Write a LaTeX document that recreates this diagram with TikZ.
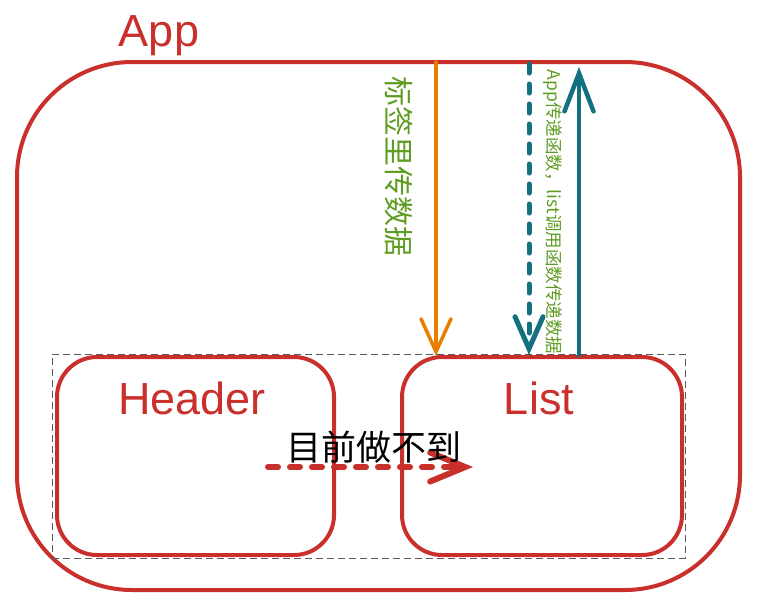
\documentclass[tikz,border=0pt]{standalone}
\usepackage{fontspec}
\setmainfont{Liberation Sans}
\newfontfamily\cjk{Noto Sans CJK SC}
\usetikzlibrary{arrows.meta}
\definecolor{boxred}{HTML}{C9302C}
\definecolor{arrorange}{HTML}{E67E00}
\definecolor{arrteal}{HTML}{12707F}
\definecolor{labgreen}{HTML}{5E9C22}
\tikzset{
  x=1pt,y=-1pt,
  redbox/.style={draw=boxred,line width=4pt,rounded corners=40pt,inner sep=0pt},
  boxtitle/.style={text=boxred,font=\fontsize{45}{45}\selectfont,inner sep=0pt},
  vlabel/.style={text=labgreen,rotate=-90,inner sep=0pt},
}
\begin{document}
\begin{tikzpicture}
\useasboundingbox (0,0) rectangle (759,598);
% App
\node[draw=boxred,line width=4pt,rounded corners=115pt,minimum width=723pt,minimum height=528pt,inner sep=0pt] (app) at (378.5,326) {};
\node[boxtitle] (apptitle) at (159,36) {App};
% dashed group
\node[draw=black!65,dash pattern=on 7pt off 4pt,line width=1pt,minimum width=633pt,minimum height=204pt,inner sep=0pt] (grp) at (368.5,456) {};
% Header and List
\node[redbox,minimum width=277pt,minimum height=198pt] (header) at (195.5,456) {};
\node[boxtitle] (headertitle) at (192,398) {Header};
\node[redbox,minimum width=280pt,minimum height=198pt] (list) at (542,456) {};
\node[boxtitle] (listtitle) at (539,398) {List};
% coordinates on borders
\coordinate (o1) at (436,62);
\coordinate (o2) at (436,356);
\coordinate (t1) at (529,64);
\coordinate (t2) at (529,355);
\coordinate (s1) at (579,355);
\coordinate (s2) at (579,67);
\coordinate (r1) at (268,467);
\coordinate (r2) at (473,467);
% orange arrow
\draw[arrorange,line width=3.5pt,line cap=round,-{Straight Barb[length=33pt,width=30pt,line cap=round]}] (o1) -- (o2);
\node[vlabel,font=\cjk\fontsize{30}{30}\selectfont] (lab1) at (399,166) {标签里传数据};
% teal dashed
\draw[arrteal,line width=5pt,line cap=round,dash pattern=on 9pt off 11pt,-{Straight Barb[length=32pt,width=28pt,line cap=round]}] (t1) -- (t2);
% teal solid
\draw[arrteal,line width=4.5pt,line cap=round,-{Straight Barb[length=38pt,width=29pt,line cap=round]}] (s1) -- (s2);
\node[vlabel,font=\cjk\fontsize{17.5}{17.5}\selectfont] (lab2) at (553,212) {App传递函数，list调用函数传递数据};
% red dashed
\draw[boxred,line width=6pt,line cap=round,dash pattern=on 10pt off 12pt,-{Straight Barb[length=35pt,width=29pt,line cap=round]}] (r1) -- (r2);
\node[font=\cjk\fontsize{35}{35}\selectfont,inner sep=0pt] (cant) at (374,447) {目前做不到};
\end{tikzpicture}
\end{document}
